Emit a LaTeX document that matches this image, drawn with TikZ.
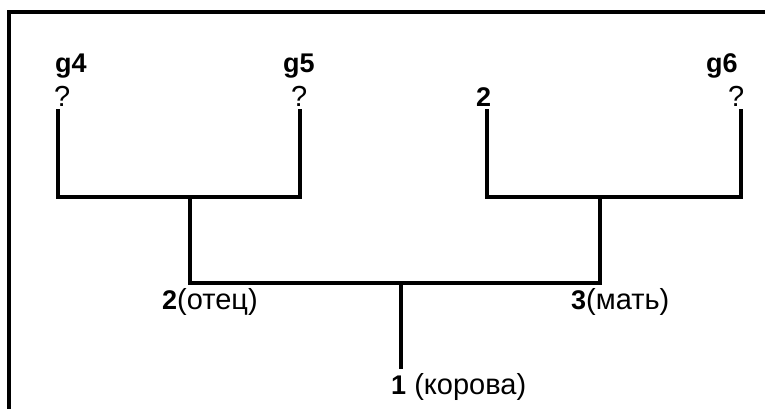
\documentclass[tikz,border=0pt]{standalone}
\usepackage{fontspec}
\setmainfont{Liberation Sans}
\newcommand{\bnum}{\fontsize{27}{30}\selectfont\bfseries}
\begin{document}
\begin{tikzpicture}[x=1pt,y=-1pt,
  tree/.style={line width=4pt,line cap=rect},
  frame/.style={line width=4pt},
  lbl/.style={inner sep=0pt,anchor=base west,font=\fontsize{29}{32}\selectfont},
  blbl/.style={inner sep=0pt,anchor=base west,font=\bnum}]
\useasboundingbox (0,0) rectangle (765,408);
\fill[white] (0,0) rectangle (765,408);
% frame
\coordinate (fa) at (9,420);
\coordinate (fb) at (9,12);
\coordinate (fc) at (780,12);
\draw[frame,line join=miter] (fa) -- (fb) -- (fc);
% tree points
\coordinate (g4t) at (58,111);
\coordinate (g4b) at (58,197);
\coordinate (g5t) at (300,111);
\coordinate (g5b) at (300,197);
\coordinate (lm) at (190,197);
\coordinate (f) at (190,283);
\coordinate (r2t) at (487,111);
\coordinate (r2b) at (487,197);
\coordinate (g6t) at (741,111);
\coordinate (g6b) at (741,197);
\coordinate (rm) at (600,197);
\coordinate (m) at (600,283);
\coordinate (cm) at (401,283);
\coordinate (c) at (401,367);
\draw[tree,line join=miter] (g4t) -- (g4b) -- (g5b) -- (g5t);
\draw[tree,line join=miter] (r2t) -- (r2b) -- (g6b) -- (g6t);
\draw[tree,line join=miter] (lm) -- (f) -- (m) -- (rm);
\draw[tree] (cm) -- (c);
% labels
\node[blbl] (lg4) at (55,72) {g4};
\node[lbl] (q4) at (54,106) {?};
\node[blbl] (lg5) at (283,72) {g5};
\node[lbl] (q5) at (291,106) {?};
\node[blbl] (l2) at (476,106) {2};
\node[blbl] (lg6) at (706,72) {g6};
\node[lbl] (q6) at (728,106) {?};
\node[lbl] (otec) at (162,309) {{\bnum 2}(отец)};
\node[lbl] (mat) at (571,309) {{\bnum 3}(мать)};
\node[lbl] (kor) at (391,394) {{\bnum 1} (корова)};
\end{tikzpicture}
\end{document}
